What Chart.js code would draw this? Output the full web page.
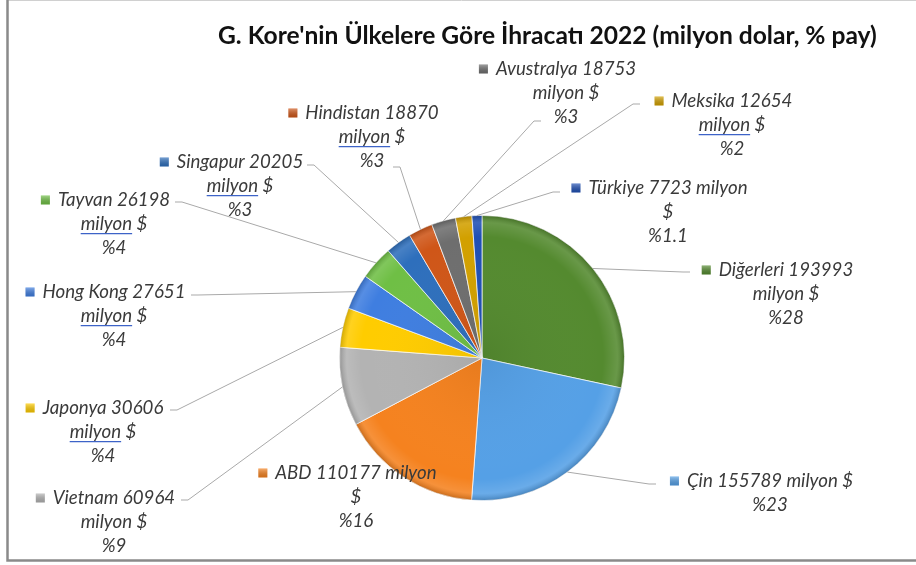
<!DOCTYPE html>
<html><head><meta charset="utf-8">
<script src="https://cdn.jsdelivr.net/npm/chart.js@4"></script>
<style>html,body{margin:0;padding:0;background:#fff}canvas{display:block}</style>
</head><body>
<canvas id="c" width="916" height="565"></canvas>
<script>
// ---- data ----
const countries = ['Diğerleri','Çin','ABD','Vietnam','Japonya','Hong Kong','Tayvan','Singapur','Hindistan','Avustralya','Meksika','Türkiye'];
const exportsMillionUSD = [193993,155789,110177,60964,30606,27651,26198,20205,18870,18753,12654,7723];
const shareLabels = ['%28','%23','%16','%9','%4','%4','%4','%3','%3','%3','%2','%1.1'];
const titleText = "G. Kore'nin Ülkelere Göre İhracatı 2022 (milyon dolar, % pay)";

// ---- styles / layout ----
const sliceColors = ['#548a2f','#55a0e6','#f5821f','#b3b3b3','#ffcc00','#3f7ee0','#6fbf45','#2e6fbc','#cf5618','#6e6e6e','#d2a000','#2050b4'];
// wrap: a = "Name Value" / "milyon $" / pct ; b = "Name Value milyon" / "$" / pct ; c = "Name Value milyon $" / pct
const labelLayout = [
  {cx:786, y:270, wrap:'a', ul:false, anchor:[690,272]},
  {cx:770, y:481, wrap:'c', ul:false, anchor:[656,484]},
  {cx:356, y:473, wrap:'b', ul:false, anchor:null},
  {cx:114, y:498, wrap:'a', ul:false, anchor:[181,500]},
  {cx:103, y:408, wrap:'a', ul:true,  anchor:[170,410]},
  {cx:114, y:292, wrap:'a', ul:true,  anchor:[191,295]},
  {cx:114, y:200, wrap:'a', ul:true,  anchor:[175,202]},
  {cx:240, y:162, wrap:'a', ul:true,  anchor:[307,165]},
  {cx:372, y:113, wrap:'a', ul:true,  anchor:[393,167]},
  {cx:566, y:69,  wrap:'a', ul:false, anchor:[541,121]},
  {cx:732, y:101, wrap:'a', ul:true,  anchor:[640,104]},
  {cx:668, y:188, wrap:'b', ul:false, anchor:[560,192]}
];
const FONT_FAMILY = "Lato, 'Open Sans', 'DejaVu Sans', sans-serif";
const LINE_H = 24;

function linesFor(i){
  const n = countries[i], v = exportsMillionUSD[i], p = shareLabels[i];
  const w = labelLayout[i].wrap;
  if (w === 'a') return [n + ' ' + v, 'milyon $', p];
  if (w === 'b') return [n + ' ' + v + ' milyon', '$', p];
  return [n + ' ' + v + ' milyon $', p];
}

const decorPlugin = {
  id: 'decor',
  afterDatasetsDraw(chart){
    const ctx = chart.ctx;
    const meta = chart.getDatasetMeta(0);
    // subtle bevel on slices
    meta.data.forEach((arc) => {
      const p = arc.getProps(['x','y','startAngle','endAngle','outerRadius'], true);
      ctx.save();
      ctx.beginPath();
      ctx.moveTo(p.x, p.y);
      ctx.arc(p.x, p.y, p.outerRadius, p.startAngle, p.endAngle);
      ctx.closePath();
      ctx.clip();
      const g = ctx.createRadialGradient(p.x, p.y, 0, p.x, p.y, p.outerRadius);
      g.addColorStop(0, 'rgba(0,0,0,0.06)');
      g.addColorStop(0.85, 'rgba(255,255,255,0)');
      g.addColorStop(0.95, 'rgba(255,255,255,0.12)');
      g.addColorStop(1, 'rgba(0,0,0,0.18)');
      ctx.fillStyle = g;
      ctx.fillRect(p.x - p.outerRadius, p.y - p.outerRadius, p.outerRadius*2, p.outerRadius*2);
      ctx.restore();
    });
  },
  afterDraw(chart){
    const ctx = chart.ctx;
    const meta = chart.getDatasetMeta(0);
    ctx.save();
    // frame
    ctx.strokeStyle = '#d0d0d0'; ctx.lineWidth = 1;
    ctx.beginPath(); ctx.moveTo(7, 0.5); ctx.lineTo(916, 0.5); ctx.stroke();
    ctx.strokeStyle = '#8a8a8a'; ctx.lineWidth = 2.5;
    ctx.beginPath(); ctx.moveTo(7.5, 0); ctx.lineTo(7.5, 560.5); ctx.lineTo(916, 560.5); ctx.stroke();

    // title
    ctx.font = "bold 100px " + FONT_FAMILY;
    const tw = ctx.measureText(titleText).width;
    const tfs = Math.min(26, 100 * 659 / tw);
    ctx.font = "bold " + tfs.toFixed(2) + "px " + FONT_FAMILY;
    ctx.fillStyle = '#111';
    ctx.textBaseline = 'middle'; ctx.textAlign = 'left';
    ctx.fillText(titleText, 218, 36);

    // label font size
    ctx.font = "italic 100px " + FONT_FAMILY;
    const ref = ctx.measureText('Hong Kong 27651').width;
    const fs = Math.max(15, Math.min(20, 100 * 143 / ref));
    const font = "italic " + fs.toFixed(2) + "px " + FONT_FAMILY;

    // leader lines
    ctx.strokeStyle = '#a9a9a9'; ctx.lineWidth = 1;
    meta.data.forEach((arc, i) => {
      const L = labelLayout[i];
      if (!L.anchor) return;
      const p = arc.getProps(['x','y','startAngle','endAngle','outerRadius'], true);
      const mid = (p.startAngle + p.endAngle) / 2;
      const ex = p.x + Math.cos(mid) * p.outerRadius;
      const ey = p.y + Math.sin(mid) * p.outerRadius;
      const [ax, ay] = L.anchor;
      const dir = ex < ax ? -1 : 1;
      ctx.beginPath();
      ctx.moveTo(ax, ay);
      ctx.lineTo(ax + dir * 7, ay);
      ctx.lineTo(ex, ey);
      ctx.stroke();
    });

    // labels
    ctx.font = font;
    ctx.textBaseline = 'middle';
    meta.data.forEach((arc, i) => {
      const L = labelLayout[i];
      const lines = linesFor(i);
      lines.forEach((t, k) => {
        const y = L.y + k * LINE_H;
        const w = ctx.measureText(t).width;
        const x0 = L.cx - w / 2;
        ctx.fillStyle = '#3a3a3a';
        ctx.textAlign = 'left';
        ctx.fillText(t, x0, y);
        if (k === 0) {
          // legend key
          const s = 9, kx = x0 - 8 - s, ky = y - s / 2;
          const g = ctx.createLinearGradient(kx, ky, kx, ky + s);
          g.addColorStop(0, 'rgba(255,255,255,0.35)');
          g.addColorStop(1, 'rgba(0,0,0,0.15)');
          ctx.fillStyle = sliceColors[i];
          ctx.fillRect(kx, ky, s, s);
          ctx.fillStyle = g;
          ctx.fillRect(kx, ky, s, s);
        }
        if (L.ul && t.startsWith('milyon') && lines.length === 3 && k === 1) {
          const uw = ctx.measureText('milyon').width;
          ctx.strokeStyle = '#3d63c8'; ctx.lineWidth = 1.2;
          ctx.beginPath();
          ctx.moveTo(x0, y + fs * 0.52);
          ctx.lineTo(x0 + uw, y + fs * 0.52);
          ctx.stroke();
        }
      });
    });
    ctx.restore();
  }
};

new Chart(document.getElementById('c'), {
  type: 'pie',
  data: {
    labels: countries,
    datasets: [{
      data: exportsMillionUSD,
      backgroundColor: sliceColors,
      borderColor: 'rgba(255,255,255,0.7)',
      borderWidth: 1
    }]
  },
  options: {
    responsive: false,
    animation: false,
    events: [],
    layout: { padding: { top: 215, bottom: 64, left: 100, right: 52 } },
    plugins: { legend: { display: false }, tooltip: { enabled: false }, title: { display: false } }
  },
  plugins: [decorPlugin]
});
</script>
</body></html>
